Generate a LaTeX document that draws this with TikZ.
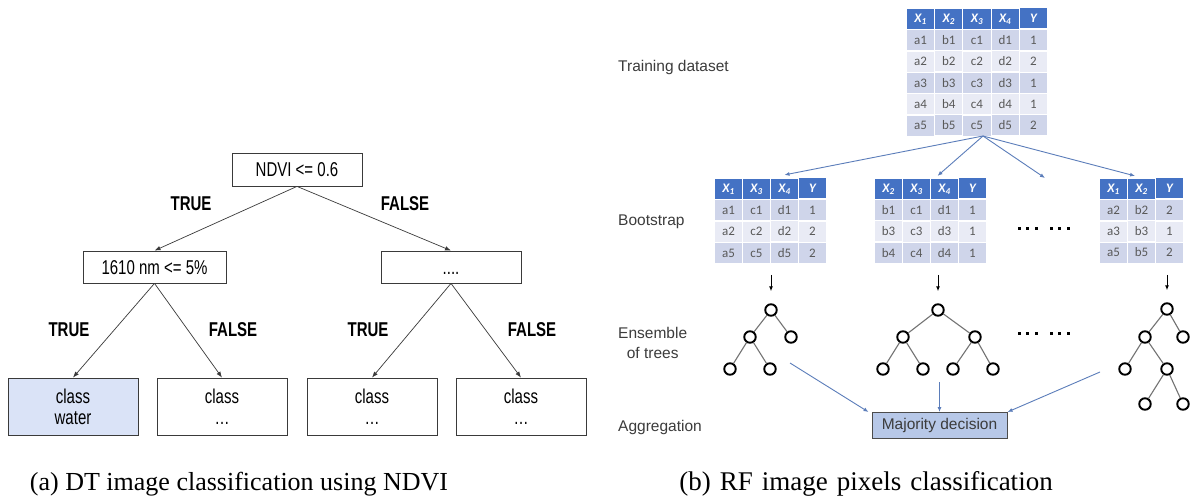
\documentclass[tikz,border=0pt]{standalone}
\usepackage{fontspec}
\setmainfont{Liberation Serif}
\newfontfamily\nsans[FakeStretch=0.75]{Liberation Sans}
\newfontfamily\asans{Liberation Sans}
\newfontfamily\tabfont{Carlito}
\usetikzlibrary{arrows.meta,matrix}

\definecolor{dline}{HTML}{3A3A3A}
\definecolor{leafblue}{HTML}{DAE3F7}
\definecolor{hdrblue}{HTML}{4472C4}
\definecolor{rowA}{HTML}{CFD5EA}
\definecolor{rowB}{HTML}{E9EBF5}
\definecolor{celltext}{HTML}{595959}
\definecolor{labgray}{HTML}{3C3C3C}
\definecolor{flowblue}{HTML}{5B7DBA}
\definecolor{majfill}{HTML}{B7C8E8}

\tikzset{
  dbox/.style={draw=dline, line width=0.8pt, inner sep=0pt,
    font=\nsans\fontsize{20}{21}\selectfont, text=black},
  leaf/.style={dbox, minimum width=130pt, minimum height=57pt, align=center},
  tflag/.style={font=\nsans\bfseries\fontsize{20}{21}\selectfont, text=black, inner sep=0pt},
  tarrow/.style={draw=dline, line width=0.7pt, -{Latex[length=6pt,width=4.5pt]}},
  lab/.style={font=\asans\fontsize{15.5}{20}\selectfont, text=labgray, inner sep=0pt},
  cell/.style={minimum width=27pt, minimum height=20pt, inner sep=0pt,
    font=\tabfont\fontsize{13}{13}\selectfont, text=celltext},
  datatab/.style={matrix of nodes, inner sep=0pt, outer sep=0pt,
    column sep=1pt, row sep=1pt, anchor=north west, nodes={cell},
    row 1/.style={nodes={fill=hdrblue, text=white,
      font=\tabfont\bfseries\itshape\fontsize{13}{13}\selectfont}},
    row 2/.style={nodes={fill=rowA}},
    row 3/.style={nodes={fill=rowB}},
    row 4/.style={nodes={fill=rowA}},
    row 5/.style={nodes={fill=rowB}},
    row 6/.style={nodes={fill=rowA}}},
  flow/.style={draw=flowblue, line width=0.9pt, -{Latex[length=5pt,width=4pt]}},
  darr/.style={draw=black, line width=1pt, -{Latex[length=5pt,width=4pt]}},
  tn/.style={circle, draw=black, line width=1.9pt, minimum size=11.5pt, inner sep=0pt},
  tedge/.style={draw=black!55, line width=1.1pt},
  mbox/.style={draw=black!70, line width=1pt, fill=majfill, minimum width=135pt,
    minimum height=26pt, inner sep=0pt, font=\asans\fontsize{15.5}{18}\selectfont, text=labgray},
  captext/.style={font=\fontsize{26}{30}\selectfont, inner sep=0pt, anchor=base}
}

\begin{document}
\begin{tikzpicture}[x=1pt,y=-1pt]
\useasboundingbox[fill=white] (0,0) rectangle (1194,503);

% ---------------- (a) decision tree ----------------
\node[dbox, minimum width=130pt, minimum height=33pt, text height=14.3pt, text depth=0pt]
  (root) at (297,169.5) {NDVI <= 0.6};
\node[dbox, minimum width=143pt, minimum height=32pt, text height=14.3pt, text depth=0pt]
  (l1) at (154.5,267) {1610 nm <= 5\%};
\node[dbox, minimum width=140pt, minimum height=32pt, text height=14.3pt, text depth=0pt]
  (r1) at (451,267) {....};

\node[leaf, fill=leafblue] (c1) at (73,406.5) {class\\water};
\node[leaf] (c2) at (222,406.5) {class\\…};
\node[leaf] (c3) at (372,406.5) {class\\…};
\node[leaf] (c4) at (521,406.5) {class\\…};

\draw[tarrow] (root.south) -- (l1.north);
\draw[tarrow] (root.south) -- (r1.north);
\draw[tarrow] (l1.south) -- (c1.north);
\draw[tarrow] (l1.south) -- (c2.north);
\draw[tarrow] (r1.south) -- (c3.north);
\draw[tarrow] (r1.south) -- (c4.north);

\node[tflag] (t1) at (191,204) {TRUE};
\node[tflag] (f1) at (405,204) {FALSE};
\node[tflag] (t2) at (69,330) {TRUE};
\node[tflag] (f2) at (233,330) {FALSE};
\node[tflag] (t3) at (368,330) {TRUE};
\node[tflag] (f3) at (532,330) {FALSE};

% ---------------- (b) random forest ----------------
\node[lab, anchor=west] (ltrain) at (618,67) {Training dataset};
\node[lab, anchor=west] (lboot) at (618,222) {Bootstrap};
\node[lab, anchor=west, align=center] (lens) at (618,343) {Ensemble\\of trees};
\node[lab, anchor=west] (lagg) at (618,427) {Aggregation};

\matrix (T) [datatab, nodes={minimum width=27.2pt}] at (907,8) {
  X\textsubscript{1} & X\textsubscript{2} & X\textsubscript{3} & X\textsubscript{4} & Y \\
  a1 & b1 & c1 & d1 & 1 \\
  a2 & b2 & c2 & d2 & 2 \\
  a3 & b3 & c3 & d3 & 1 \\
  a4 & b4 & c4 & d4 & 1 \\
  a5 & b5 & c5 & d5 & 2 \\
};

\matrix (B1) [datatab] at (715,178) {
  X\textsubscript{1} & X\textsubscript{3} & X\textsubscript{4} & Y \\
  a1 & c1 & d1 & 1 \\
  a2 & c2 & d2 & 2 \\
  a5 & c5 & d5 & 2 \\
};

\matrix (B2) [datatab] at (875,178) {
  X\textsubscript{2} & X\textsubscript{3} & X\textsubscript{4} & Y \\
  b1 & c1 & d1 & 1 \\
  b3 & c3 & d3 & 1 \\
  b4 & c4 & d4 & 1 \\
};

\matrix (B3) [datatab] at (1100,178) {
  X\textsubscript{1} & X\textsubscript{2} & Y \\
  a2 & b2 & 2 \\
  a3 & b3 & 1 \\
  a5 & b5 & 2 \\
};

% sampling arrows
\coordinate (fan) at (983,136);
\coordinate (gap) at (1045,178);
\draw[flow] (fan) -- ([yshift=4pt]B1-1-3.north);
\draw[flow] (fan) -- ([xshift=-7pt,yshift=3pt]B2-1-3.north);
\draw[flow] (fan) -- (gap);
\draw[flow] (fan) -- ([xshift=-6.5pt,yshift=3pt]B3-1-2.north);

% ellipses between samples and between trees
\foreach \yy in {228,333}
  \foreach \xx in {1019,1027.7,1036.4,1051,1059.7,1068.4}
    \fill[black] (\xx-1.5,\yy-1.5) rectangle ++(3,3);

% tree 1
\node[tn] (a0) at (771,310) {};
\node[tn] (a1) at (750,337) {};
\node[tn] (a2) at (791,337) {};
\node[tn] (a3) at (730,369) {};
\node[tn] (a4) at (770,369) {};
\draw[tedge] (a0) -- (a1) (a0) -- (a2) (a1) -- (a3) (a1) -- (a4);

% tree 2
\node[tn] (b0) at (938,310) {};
\node[tn] (b1) at (903,337) {};
\node[tn] (b2) at (975,337) {};
\node[tn] (b3) at (883,369) {};
\node[tn] (b4) at (923,369) {};
\node[tn] (b5) at (953,369) {};
\node[tn] (b6) at (993,369) {};
\draw[tedge] (b0) -- (b1) (b0) -- (b2) (b1) -- (b3) (b1) -- (b4) (b2) -- (b5) (b2) -- (b6);

% tree 3
\node[tn] (d0) at (1167,309) {};
\node[tn] (d1) at (1145,337) {};
\node[tn] (d2) at (1183,337) {};
\node[tn] (d3) at (1125,369) {};
\node[tn] (d4) at (1167,369) {};
\node[tn] (d5) at (1145,404) {};
\node[tn] (d6) at (1183,404) {};
\draw[tedge] (d0) -- (d1) (d0) -- (d2) (d1) -- (d3) (d1) -- (d4) (d4) -- (d5) (d4) -- (d6);

% sample -> tree arrows
\draw[darr] (B1.south -| a0) ++(0,12) -- ([yshift=12pt]a0.north);
\draw[darr] (B2.south -| b0) ++(0,12) -- ([yshift=12pt]b0.north);
\draw[darr] (B3.south -| d0) ++(0,12) -- ([yshift=12pt]d0.north);

% aggregation
\node[mbox] (maj) at (939.5,425.5) {Majority decision};
\coordinate (g1) at (790,363);
\coordinate (g2) at (939.5,382);
\coordinate (g3) at (1100,372);
\draw[flow] (g1) -- ([xshift=-3pt]maj.north west);
\draw[flow] (g2) -- (maj.north);
\draw[flow] (g3) -- (maj.north east);

% captions
\node[captext] (capa) at (239,490) {(a) DT image classification using NDVI};
\node[captext, font=\fontsize{27}{30}\selectfont] (capb) at (866,490)
  {\spaceskip=9pt (b) RF image pixels classification};
\end{tikzpicture}
\end{document}
